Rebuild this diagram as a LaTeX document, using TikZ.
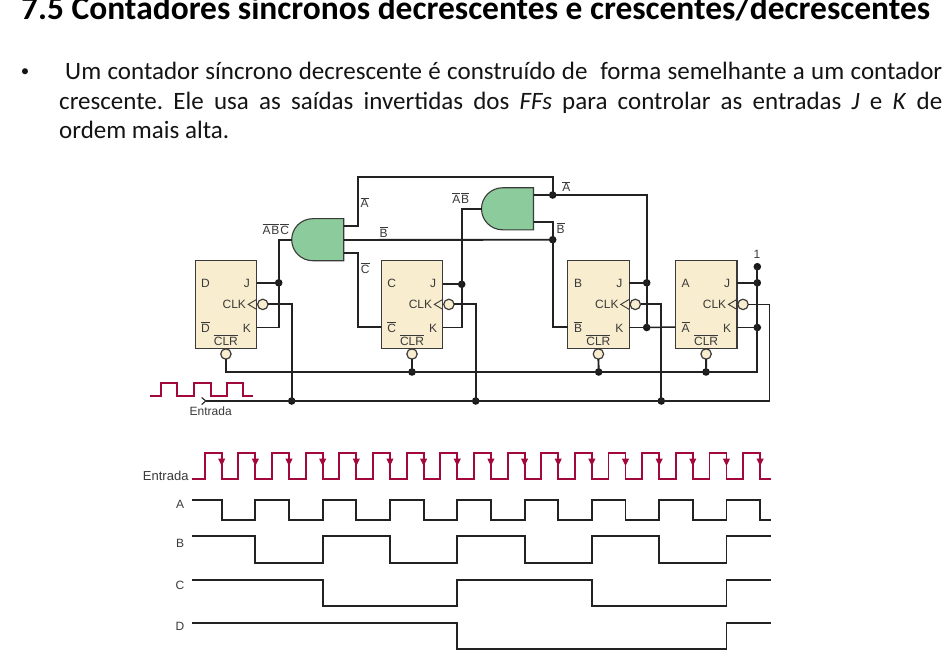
\documentclass[tikz,border=0pt]{standalone}
\usepackage{fontspec}
\setmainfont{Carlito}
\newfontfamily\labfont{Liberation Sans}
\usetikzlibrary{arrows.meta}
\definecolor{ink}{HTML}{222222}
\definecolor{labink}{HTML}{3A3A3A}
\definecolor{ffcream}{HTML}{F8EDCF}
\definecolor{gategreen}{HTML}{8CCB9B}
\definecolor{maroon}{HTML}{A3083C}
\newcommand\ob[1]{\vbox{\hrule height .75pt \kern 1pt \hbox{#1}}}
\tikzset{
  ffbox/.style={draw=labink,fill=ffcream,line width=1.3pt,minimum width=61.5pt,minimum height=88pt,inner sep=0pt,outer sep=0pt},
  lab/.style={font=\labfont\fontsize{12}{14}\selectfont,text=labink,inner sep=0pt,anchor=base},
  bubble/.style={circle,draw=labink,fill=ffcream,line width=1.2pt,minimum size=10.4pt,inner sep=0pt,outer sep=0pt},
  wire/.style={draw=ink,line width=1.9pt,line join=miter},
  thinwire/.style={draw=ink,line width=1.5pt},
  dotj/.style={circle,fill=black!90,minimum size=7.6pt,inner sep=0pt,outer sep=0pt},
  gatebody/.style={draw=labink,fill=gategreen,line width=1.1pt},
  gatenode/.style={minimum width=52pt,minimum height=42pt,inner sep=0pt,outer sep=0pt},
  title/.style={font=\bfseries\fontsize{33.45}{38}\selectfont,anchor=base west,inner sep=0pt,text=black},
  body/.style={font=\fontsize{25}{30}\selectfont,anchor=base west,inner sep=0pt,text=black!92},
  redwave/.style={draw=maroon,line width=1.9pt,line join=miter},
  wave/.style={draw=ink,line width=1.9pt,line join=miter},
}
\newcommand\ffunit[4]{%
  \node[ffbox,anchor=north west] (#1) at (#2,260.7) {};
  \node[lab] (#1q) at ({#2+10.3},287) {#3};
  \node[lab] (#1qb) at ({#2+10.3},332) {\ob{#3}};
  \node[lab] (#1jl) at ({#2+51.7},287) {J};
  \node[lab] (#1kl) at ({#2+51.7},332) {K};
  \node[lab,anchor=base east] (#1cl) at ({#2+51},308.7) {CLK};
  \node[lab] (#1rl) at ({#2+30.7},345.3) {\ob{CLR}};
  \node[bubble] (#1clk) at ({#2+67.6},304.4) {};
  \node[bubble] (#1clr) at ({#2+30.7},354) {};
  \coordinate (#1J) at ({#2+61.5},282.8);
  \coordinate (#1K) at ({#2+61.5},327.5);
  \coordinate (#1L) at (#2,327);
  \draw[draw=labink,line width=.9pt] ({#2+61.5},299.4) -- ({#2+53},304.4) -- ({#2+61.5},309.4);
}
\newcommand\gateshape[1]{%
  \path[gatebody] (#1.north east) -- ++(-31,0) arc[start angle=90,end angle=270,radius=21pt] -- (#1.south east) -- cycle;
}
\begin{document}
\begin{tikzpicture}[x=1pt,y=-1pt,declare function={fallx(\k)=221.7+33.65*\k;}]
\useasboundingbox (0,0) rectangle (949,668);
\clip (0,0) rectangle (949,668);
\fill[white] (0,0) rectangle (949,668);

% heading text
\node[title] (head) at (21,19.5) {7.5 Contadores síncronos decrescentes e crescentes/decrescentes};
\node[body,anchor=base,font=\fontsize{17}{20}\selectfont] (bul) at (25,77) {•};
\node[body] (l1) at (65,80) {\makebox[877pt][s]{\frenchspacing Um contador síncrono decrescente é construído de\ \ forma semelhante a um contador}};
\node[body] (l2) at (59,109.3) {\makebox[883pt][s]{\frenchspacing crescente. Ele usa as saídas invertidas dos \textit{FFs} para controlar as entradas \textit{J} e \textit{K} de}};
\node[body] (l3) at (59,138.3) {ordem mais alta.};

% flip-flops
\ffunit{ffD}{195.2}{D}{}
\ffunit{ffC}{381.3}{C}{}
\ffunit{ffB}{567.7}{B}{}
\ffunit{ffA}{675.4}{A}{}
\coordinate (ffCJ) at (442.8,284.3);

% gates
\node[gatenode] (andone) at (317.7,239.7) {};
\node[gatenode] (andtwo) at (507.5,208.8) {};
\gateshape{andone}
\gateshape{andtwo}
\coordinate (andonea) at (343.7,226);
\coordinate (andoneb) at (343.7,240);
\coordinate (andonec) at (343.7,252.7);
\coordinate (andtwoa) at (533.5,195);
\coordinate (andtwob) at (533.5,222);

% junctions
\node[dotj] (jD) at (278.7,282.8) {};
\node[dotj] (jC) at (461.7,284.3) {};
\node[dotj] (jBJ) at (646.7,282.8) {};
\node[dotj] (jBK) at (646.7,327.5) {};
\node[dotj] (jAJ) at (757.3,282.8) {};
\node[dotj] (jAK) at (757.3,327.5) {};
\node[dotj] (one) at (757.3,266.7) {};
\node[dotj] (jNA) at (552.7,195) {};
\node[dotj] (jNB) at (552.7,239.7) {};
\node[dotj] (jRC) at (412,372) {};
\node[dotj] (jRB) at (598.7,372) {};
\node[dotj] (jRA) at (706,372) {};
\node[dotj] (jCD) at (291.7,401) {};
\node[dotj] (jCC) at (475.7,401) {};
\node[dotj] (jCB) at (661.3,401) {};
\coordinate (topa) at (358,177.3);
\coordinate (lowc) at (358,252.7);
\coordinate (cornerclk) at (769.7,401);
\coordinate (inp) at (205.7,401);

% wires
\draw[wire] (ffDJ) -- (jD.center);
\draw[wire] (ffDK) -| (jD.center) |- (andone.west);
\draw[wire] (ffCJ) -- (jC.center);
\draw[wire] (ffCK) -| (jC.center) |- (andtwo.west);
\draw[wire] (andonea) -| (topa) -| (jNA.center);
\draw[wire] (andoneb) -- (jNB.center);
\draw[wire] (andonec) -- (lowc) |- (ffCL);
\draw[wire] (andtwoa) -- (jNA.center) -| (jBK.center);
\draw[wire] (andtwob) -| (jNB.center) |- (ffBL);
\draw[wire] (ffBJ) -- (jBJ.center);
\draw[wire] (ffBK) -- (jBK.center);
\draw[thinwire] (jBK.center) -- (ffAL);
\draw[wire] (ffAJ) -- (jAJ.center);
\draw[wire] (ffAK) -- (jAK.center);
\draw[wire] (ffDclk.east) -| (jCD.center);
\draw[wire] (ffCclk.east) -| (jCC.center);
\draw[wire] (ffBclk.east) -| (jCB.center);
\draw[thinwire] (ffAclk.east) -| (cornerclk);
\draw[thinwire] (inp) -- (jCD.center) -- (jCC.center) -- (jCB.center) -- (cornerclk);
\draw[thinwire,line width=1.1pt] ([shift={(-4,-3.5)}]inp) -- (inp) -- ([shift={(-4,3.5)}]inp);
\draw[wire] (ffDclr.south) |- (jRA.center) -| (one.center);
\draw[wire] (ffCclr.south) -- (jRC.center);
\draw[wire] (ffBclr.south) -- (jRB.center);
\draw[wire] (ffAclr.south) -- (jRA.center);

% wire labels
\node[lab] (lA1) at (364.7,207.7) {\ob{A}};
\node[lab] (lB1) at (383.7,237) {\ob{B}};
\node[lab] (lC1) at (365.3,273.3) {\ob{C}};
\node[lab] (lABC) at (275.8,234.3) {\ob{A}\kern.8pt\ob{B}\kern.8pt\ob{C}};
\node[lab] (lAB) at (460.8,203.3) {\ob{A}\kern.8pt\ob{B}};
\node[lab] (lA2) at (566.3,191.7) {\ob{A}};
\node[lab] (lB2) at (560.7,233.3) {\ob{B}};
\node[lab] (lone) at (757,258.7) {1};
\node[lab] (lin) at (210.7,415.5) {Entrada};

% input pulse symbol
\draw[redwave] (150,395.7) -- (161,395.7) -- (161,382.7) -- (177.3,382.7) -- (177.3,395.7) -- (193.7,395.7) -- (193.7,382.7) -- (210.7,382.7) -- (210.7,395.7) -- (226.7,395.7) -- (226.7,382.7) -- (243.3,382.7) -- (243.3,395.7) -- (253.3,395.7);

% timing diagram
\node[lab,anchor=base east,font=\labfont\fontsize{13}{15}\selectfont] (tE) at (188.7,480.3) {Entrada};
\node[lab] (tA) at (180,508) {A};
\node[lab] (tB) at (180,547.7) {B};
\node[lab] (tC) at (180,589.7) {C};
\node[lab] (tD) at (180,630.7) {D};

\draw[redwave] (192.3,478.7) foreach \k in {0,...,16}{ -- ({fallx(\k)-17},478.7) -- ({fallx(\k)-17},452.7) -- ({fallx(\k)},452.7) -- ({fallx(\k)},478.7)} -- (771,478.7);
\foreach \k in {0,...,16}{
  \draw[draw=maroon,line width=1pt,-{Triangle[width=7pt,length=7.5pt]}] ({fallx(\k)},456) -- ({fallx(\k)},466);
}
\draw[wave] (192,500) foreach \k in {0,2,...,14}{ -- ({fallx(\k)},500) -- ({fallx(\k)},520.3) -- ({fallx(\k+1)},520.3) -- ({fallx(\k+1)},500)} -- ({fallx(16)},500) -- ({fallx(16)},520.3) -- (771,520.3);
\draw[wave] (192,536) foreach \k in {1,5,9,13}{ -- ({fallx(\k)},536) -- ({fallx(\k)},562.7) -- ({fallx(\k+2)},562.7) -- ({fallx(\k+2)},536)} -- (771,536);
\draw[wave] (192,580) foreach \k in {3,11}{ -- ({fallx(\k)},580) -- ({fallx(\k)},606) -- ({fallx(\k+4)},606) -- ({fallx(\k+4)},580)} -- (771,580);
\draw[wave] (192,622.7) -- ({fallx(7)},622.7) -- ({fallx(7)},649.3) -- ({fallx(15)},649.3) -- ({fallx(15)},622.7) -- (771,622.7);
\end{tikzpicture}
\end{document}
